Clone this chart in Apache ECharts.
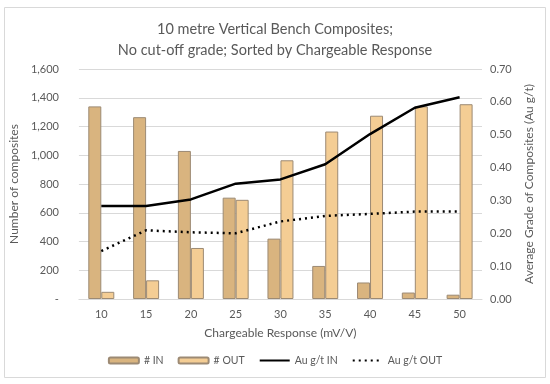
<!DOCTYPE html>
<html><head><meta charset="utf-8">
<script src="https://cdn.jsdelivr.net/npm/echarts@6/dist/echarts.min.js"></script>
<style>html,body{margin:0;padding:0;background:#fff}#c{width:550px;height:384px}</style>
</head><body><div id="c"></div>
<script>
const categories = ['10','15','20','25','30','35','40','45','50'];
const countIn = [1340, 1265, 1030, 705, 420, 230, 115, 45, 30];
const countOut = [50, 130, 355, 690, 965, 1165, 1275, 1340, 1355];
const gradeIn = [0.283, 0.283, 0.303, 0.351, 0.364, 0.410, 0.502, 0.582, 0.614];
const gradeOut = [0.146, 0.209, 0.203, 0.200, 0.236, 0.253, 0.259, 0.266, 0.266];

const FONT = 'Lato, "Noto Sans", sans-serif';
const TXT = '#595959';
const hidden = {color:'rgba(0,0,0,0)', borderColor:'rgba(0,0,0,0)', borderWidth:0};
const chart = echarts.init(document.getElementById('c'), null, {renderer:'canvas'});
chart.setOption({
  animation:false,
  textStyle:{fontFamily:FONT},
  title:{
    text:'10 metre Vertical Bench Composites;\nNo cut-off grade; Sorted by Chargeable Response',
    left:'center', top:14,
    textStyle:{fontFamily:FONT, fontSize:14.5, fontWeight:'normal', color:TXT, lineHeight:21}
  },
  graphic:[{type:'rect', shape:{x:4.5,y:7.5,width:541,height:370}, style:{fill:'none', stroke:'#D9D9D9', lineWidth:1}, z:-1}],
  grid:{left:73, right:68, top:69, bottom:85, containLabel:false},
  legend:{
    bottom:13, left:'center', itemGap:14, itemWidth:30, itemHeight:6,
    textStyle:{fontFamily:FONT, fontSize:10.5, color:TXT},
    data:[
      {name:'# IN'},
      {name:'# OUT'},
      {name:'Au g/t IN', itemStyle:hidden},
      {name:'Au g/t OUT', itemStyle:hidden}
    ]
  },
  xAxis:{
    type:'category', data:categories,
    name:'Chargeable Response (mV/V)', nameLocation:'middle', nameGap:28,
    nameTextStyle:{fontFamily:FONT, fontSize:12, color:TXT},
    axisLine:{lineStyle:{color:'#D9D9D9'}}, axisTick:{show:false},
    axisLabel:{fontFamily:FONT, fontSize:11, color:TXT, margin:10}
  },
  yAxis:[{
    type:'value', min:0, max:1600, interval:200,
    name:'Number of composites', nameLocation:'middle', nameGap:33,
    nameTextStyle:{fontFamily:FONT, fontSize:12, color:TXT},
    axisLine:{show:false}, axisTick:{show:false},
    splitLine:{lineStyle:{color:'#D9D9D9'}},
    axisLabel:{fontFamily:FONT, fontSize:11, color:TXT, margin:20,
      formatter:v=> v===0 ? '-' : v.toLocaleString('en-US')}
  },{
    type:'value', min:0, max:0.7, interval:0.1,
    name:'Average Grade of Composites (Au g/t)', nameLocation:'middle', nameGap:33,
    nameTextStyle:{fontFamily:FONT, fontSize:12, color:TXT},
    axisLine:{show:false}, axisTick:{show:false}, splitLine:{show:false},
    axisLabel:{fontFamily:FONT, fontSize:11, color:TXT, margin:8, formatter:v=>v.toFixed(2)}
  }],
  series:[
    {name:'# IN', type:'bar', data:countIn, barWidth:13, barGap:'0%',
      itemStyle:{color:'#D9B47F', borderColor:'#9C8A74', borderWidth:1}},
    {name:'# OUT', type:'bar', data:countOut, barWidth:13, barGap:'0%',
      itemStyle:{color:'#F4CD94', borderColor:'#9C8A74', borderWidth:1}},
    {name:'Au g/t IN', type:'line', yAxisIndex:1, data:gradeIn, symbol:'none',
      lineStyle:{color:'#000', width:2.5}, itemStyle:{color:'#000'}, z:5},
    {name:'Au g/t OUT', type:'line', yAxisIndex:1, data:gradeOut, symbol:'none',
      lineStyle:{color:'#000', width:2.5, type:[2,4]}, itemStyle:{color:'#000'}, z:5}
  ]
});
</script></body></html>
